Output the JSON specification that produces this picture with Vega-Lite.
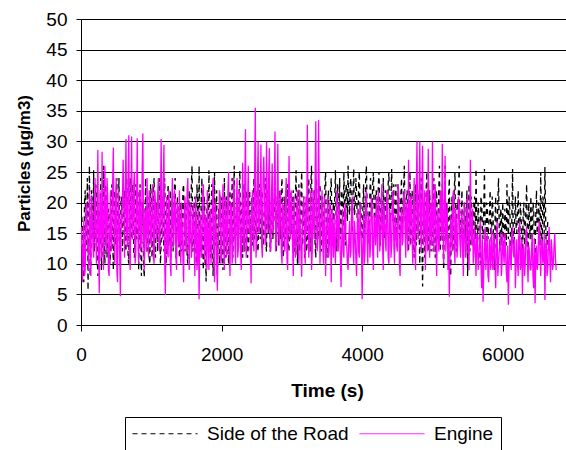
{
"$schema": "https://vega.github.io/schema/vega-lite/v6.json",
"width": 485, "height": 306,
"autosize": {"type": "none"},
"padding": {"left": 81, "top": 19, "right": 0, "bottom": 125},
"background": "white",
"config": {"font": "Liberation Sans", "view": {"stroke": null}},
"data": {"values": [
{"t":0,"road":11,"engine":13},{"t":20,"road":16,"engine":7},{"t":40,"road":7,"engine":17},{"t":60,"road":22,"engine":9},{"t":80,"road":14,"engine":20},{"t":100,"road":5.7,"engine":12},{"t":120,"road":26,"engine":22},{"t":140,"road":10,"engine":8},{"t":160,"road":19,"engine":18},{"t":180,"road":25.3,"engine":11},
{"t":200,"road":14,"engine":24},{"t":220,"road":21,"engine":10},{"t":240,"road":8,"engine":28.6},{"t":260,"road":18,"engine":5.2},{"t":280,"road":24,"engine":19},{"t":300,"road":12,"engine":28.3},{"t":320,"road":26,"engine":9},{"t":340,"road":10,"engine":26},{"t":360,"road":20,"engine":12},{"t":380,"road":15,"engine":21},
{"t":400,"road":18,"engine":8},{"t":420,"road":12,"engine":22},{"t":440,"road":23,"engine":14},{"t":460,"road":9,"engine":29},{"t":480,"road":21,"engine":10},{"t":500,"road":15,"engine":24},{"t":520,"road":11,"engine":7},{"t":540,"road":24,"engine":19},{"t":560,"road":10,"engine":4.7},{"t":580,"road":20,"engine":16},
{"t":600,"road":16,"engine":27},{"t":620,"road":22,"engine":11},{"t":640,"road":12,"engine":30.4},{"t":660,"road":19,"engine":13},{"t":680,"road":10,"engine":31},{"t":700,"road":24,"engine":9},{"t":720,"road":14,"engine":30.8},{"t":740,"road":21,"engine":15},{"t":760,"road":11,"engine":25},{"t":780,"road":23,"engine":12},
{"t":800,"road":17,"engine":30.5},{"t":820,"road":9,"engine":10},{"t":840,"road":23,"engine":22},{"t":860,"road":8,"engine":14},{"t":880,"road":20,"engine":31.3},{"t":900,"road":7.8,"engine":9},{"t":920,"road":24,"engine":18},{"t":940,"road":12,"engine":24},{"t":960,"road":19,"engine":11},{"t":980,"road":10,"engine":21},
{"t":1000,"road":21,"engine":13},{"t":1020,"road":14,"engine":23},{"t":1040,"road":24,"engine":10},{"t":1060,"road":11,"engine":20},{"t":1080,"road":19,"engine":15},{"t":1100,"road":16,"engine":24},{"t":1120,"road":22,"engine":12},{"t":1140,"road":13,"engine":30.4},{"t":1160,"road":20,"engine":14},{"t":1180,"road":12,"engine":29.4},
{"t":1200,"road":18,"engine":4.9},{"t":1220,"road":12,"engine":21},{"t":1240,"road":23,"engine":11},{"t":1260,"road":15,"engine":18},{"t":1280,"road":11,"engine":8},{"t":1300,"road":21,"engine":24},{"t":1320,"road":17,"engine":13},{"t":1340,"road":24,"engine":20},{"t":1360,"road":13,"engine":9},{"t":1380,"road":19,"engine":17},
{"t":1400,"road":11,"engine":22},{"t":1420,"road":20,"engine":10},{"t":1440,"road":14,"engine":16},{"t":1460,"road":23,"engine":7},{"t":1480,"road":12,"engine":21},{"t":1500,"road":18,"engine":12},{"t":1520,"road":10,"engine":24},{"t":1540,"road":22,"engine":9},{"t":1560,"road":16,"engine":19},{"t":1580,"road":26,"engine":13},
{"t":1600,"road":13,"engine":20},{"t":1620,"road":21,"engine":8},{"t":1640,"road":10,"engine":17},{"t":1660,"road":19,"engine":11},{"t":1680,"road":26,"engine":4.2},{"t":1700,"road":12,"engine":18},{"t":1720,"road":24,"engine":12},{"t":1740,"road":9,"engine":23},{"t":1760,"road":20,"engine":10},{"t":1780,"road":7.1,"engine":15},
{"t":1800,"road":22,"engine":22},{"t":1820,"road":25.3,"engine":9},{"t":1840,"road":11,"engine":19},{"t":1860,"road":23,"engine":13},{"t":1880,"road":8,"engine":24},{"t":1900,"road":25,"engine":7},{"t":1920,"road":15,"engine":18},{"t":1940,"road":7.9,"engine":5.6},{"t":1960,"road":19,"engine":16},{"t":1980,"road":12,"engine":21},
{"t":2000,"road":20,"engine":11},{"t":2020,"road":9,"engine":23},{"t":2040,"road":24,"engine":9},{"t":2060,"road":13,"engine":20},{"t":2080,"road":18,"engine":14},{"t":2100,"road":10,"engine":25},{"t":2120,"road":22,"engine":8},{"t":2140,"road":16,"engine":19},{"t":2160,"road":11,"engine":12},{"t":2180,"road":26,"engine":22},
{"t":2200,"road":14,"engine":10},{"t":2220,"road":21,"engine":24},{"t":2240,"road":12,"engine":13},{"t":2260,"road":25.2,"engine":20},{"t":2280,"road":16,"engine":9},{"t":2300,"road":11,"engine":26.5},{"t":2320,"road":23,"engine":12},{"t":2340,"road":15,"engine":32},{"t":2360,"road":19,"engine":14},{"t":2380,"road":13,"engine":26},
{"t":2400,"road":22,"engine":18},{"t":2420,"road":17,"engine":6.8},{"t":2440,"road":13,"engine":22},{"t":2460,"road":24,"engine":12},{"t":2480,"road":15,"engine":35.5},{"t":2500,"road":20,"engine":14},{"t":2520,"road":12,"engine":30},{"t":2540,"road":23,"engine":16},{"t":2560,"road":16,"engine":29.5},{"t":2580,"road":21,"engine":11},
{"t":2600,"road":14,"engine":27.5},{"t":2620,"road":24,"engine":13},{"t":2640,"road":12,"engine":30},{"t":2660,"road":19,"engine":15},{"t":2680,"road":23,"engine":28.9},{"t":2700,"road":13,"engine":12},{"t":2720,"road":21,"engine":26.4},{"t":2740,"road":17,"engine":17},{"t":2760,"road":24,"engine":31.6},{"t":2780,"road":12,"engine":14},
{"t":2800,"road":18,"engine":29.6},{"t":2820,"road":22,"engine":13},{"t":2840,"road":14,"engine":21},{"t":2860,"road":24,"engine":10},{"t":2880,"road":11,"engine":18},{"t":2900,"road":20,"engine":12},{"t":2920,"road":16,"engine":24},{"t":2940,"road":23,"engine":9},{"t":2960,"road":12,"engine":27.6},{"t":2980,"road":19,"engine":14},
{"t":3000,"road":15,"engine":20},{"t":3020,"road":22,"engine":8},{"t":3040,"road":12,"engine":17},{"t":3060,"road":25.3,"engine":12},{"t":3080,"road":10,"engine":22},{"t":3100,"road":23,"engine":10},{"t":3120,"road":14,"engine":16},{"t":3140,"road":25,"engine":7.9},{"t":3160,"road":17,"engine":19},{"t":3180,"road":11,"engine":13},
{"t":3200,"road":20,"engine":21},{"t":3220,"road":14,"engine":32.7},{"t":3240,"road":24,"engine":11},{"t":3260,"road":12,"engine":18},{"t":3280,"road":26,"engine":9},{"t":3300,"road":17,"engine":22},{"t":3320,"road":22,"engine":14},{"t":3340,"road":11,"engine":33.3},{"t":3360,"road":19,"engine":12},{"t":3380,"road":15,"engine":33.5},
{"t":3400,"road":23,"engine":10},{"t":3420,"road":12,"engine":19},{"t":3440,"road":20,"engine":13},{"t":3460,"road":16,"engine":21},{"t":3480,"road":25,"engine":8},{"t":3500,"road":11,"engine":17},{"t":3520,"road":22,"engine":11},{"t":3540,"road":14,"engine":20},{"t":3560,"road":24,"engine":7},{"t":3580,"road":13,"engine":15},
{"t":3600,"road":17,"engine":18},{"t":3620,"road":25.3,"engine":10},{"t":3640,"road":12,"engine":22},{"t":3660,"road":21,"engine":12},{"t":3680,"road":24,"engine":16},{"t":3700,"road":15,"engine":6.2},{"t":3720,"road":20,"engine":19},{"t":3740,"road":25,"engine":11},{"t":3760,"road":13,"engine":20},{"t":3780,"road":22,"engine":13},
{"t":3800,"road":26,"engine":9},{"t":3820,"road":18,"engine":17},{"t":3840,"road":24,"engine":12},{"t":3860,"road":15,"engine":21},{"t":3880,"road":25.5,"engine":10},{"t":3900,"road":19,"engine":15},{"t":3920,"road":22,"engine":8},{"t":3940,"road":16,"engine":19},{"t":3960,"road":25,"engine":11},{"t":3980,"road":20,"engine":16},
{"t":4000,"road":14,"engine":4.2},{"t":4020,"road":23,"engine":18},{"t":4040,"road":17,"engine":12},{"t":4060,"road":26,"engine":22},{"t":4080,"road":19,"engine":10},{"t":4100,"road":13,"engine":17},{"t":4120,"road":24,"engine":13},{"t":4140,"road":18,"engine":20},{"t":4160,"road":25,"engine":9},{"t":4180,"road":15,"engine":16},
{"t":4200,"road":22,"engine":21},{"t":4220,"road":16,"engine":11},{"t":4240,"road":25,"engine":19},{"t":4260,"road":13,"engine":14},{"t":4280,"road":20,"engine":23},{"t":4300,"road":24,"engine":9},{"t":4320,"road":14,"engine":17},{"t":4340,"road":21,"engine":12},{"t":4360,"road":18,"engine":20},{"t":4380,"road":25,"engine":10},
{"t":4400,"road":15,"engine":18},{"t":4420,"road":25.5,"engine":13},{"t":4440,"road":19,"engine":22},{"t":4460,"road":12,"engine":10},{"t":4480,"road":23,"engine":16},{"t":4500,"road":17,"engine":12},{"t":4520,"road":21,"engine":21},{"t":4540,"road":13,"engine":8},{"t":4560,"road":24,"engine":19},{"t":4580,"road":18,"engine":14},
{"t":4600,"road":26,"engine":22},{"t":4620,"road":14,"engine":11},{"t":4640,"road":22,"engine":17},{"t":4660,"road":12,"engine":27},{"t":4680,"road":25,"engine":13},{"t":4700,"road":16,"engine":20},{"t":4720,"road":20,"engine":10},{"t":4740,"road":11,"engine":24},{"t":4760,"road":23,"engine":9},{"t":4780,"road":15,"engine":30},
{"t":4800,"road":21,"engine":14},{"t":4820,"road":10,"engine":30},{"t":4840,"road":24,"engine":12},{"t":4860,"road":6.3,"engine":29.3},{"t":4880,"road":19,"engine":18},{"t":4900,"road":13,"engine":9},{"t":4920,"road":25,"engine":22},{"t":4940,"road":15,"engine":28.8},{"t":4960,"road":22,"engine":11},{"t":4980,"road":12,"engine":20},
{"t":5000,"road":18,"engine":30},{"t":5020,"road":24,"engine":12},{"t":5040,"road":11,"engine":23},{"t":5060,"road":22,"engine":8},{"t":5080,"road":16,"engine":19},{"t":5100,"road":26,"engine":13},{"t":5120,"road":14,"engine":21},{"t":5140,"road":23,"engine":29.6},{"t":5160,"road":9,"engine":10},{"t":5180,"road":26,"engine":27.6},
{"t":5200,"road":20,"engine":15},{"t":5220,"road":13,"engine":9},{"t":5240,"road":24,"engine":4.6},{"t":5260,"road":8,"engine":18},{"t":5280,"road":21,"engine":12},{"t":5300,"road":15,"engine":22},{"t":5320,"road":25,"engine":10},{"t":5340,"road":12,"engine":17},{"t":5360,"road":19,"engine":13},{"t":5380,"road":26,"engine":20},
{"t":5400,"road":14,"engine":11},{"t":5420,"road":22,"engine":19},{"t":5440,"road":11,"engine":8},{"t":5460,"road":20,"engine":16},{"t":5480,"road":17,"engine":12},{"t":5500,"road":8,"engine":21},{"t":5520,"road":23,"engine":9},{"t":5540,"road":13,"engine":27},{"t":5560,"road":19,"engine":13},{"t":5580,"road":15,"engine":10},
{"t":5600,"road":21,"engine":16},{"t":5620,"road":25.5,"engine":8},{"t":5640,"road":12,"engine":14},{"t":5660,"road":18,"engine":11},{"t":5680,"road":10,"engine":17},{"t":5700,"road":20,"engine":6},{"t":5720,"road":14,"engine":3.8},{"t":5740,"road":25.5,"engine":13},{"t":5760,"road":11,"engine":9},{"t":5780,"road":19,"engine":15},
{"t":5800,"road":16,"engine":7},{"t":5820,"road":22,"engine":12},{"t":5840,"road":13,"engine":16},{"t":5860,"road":19,"engine":9},{"t":5880,"road":9,"engine":14},{"t":5900,"road":21,"engine":6},{"t":5920,"road":15,"engine":17},{"t":5940,"road":24,"engine":10},{"t":5960,"road":12,"engine":13},{"t":5980,"road":18,"engine":8},
{"t":6000,"road":20,"engine":15},{"t":6020,"road":11,"engine":10},{"t":6040,"road":17,"engine":12},{"t":6060,"road":23,"engine":7},{"t":6080,"road":14,"engine":3.3},{"t":6100,"road":19,"engine":14},{"t":6120,"road":10,"engine":9},{"t":6140,"road":25.5,"engine":16},{"t":6160,"road":13,"engine":11},{"t":6180,"road":21,"engine":6},
{"t":6200,"road":15,"engine":14},{"t":6220,"road":22,"engine":8},{"t":6240,"road":12,"engine":17},{"t":6260,"road":18,"engine":11},{"t":6280,"road":9,"engine":5},{"t":6300,"road":20,"engine":13},{"t":6320,"road":16,"engine":10},{"t":6340,"road":23,"engine":16},{"t":6360,"road":11,"engine":7},{"t":6380,"road":17,"engine":12},
{"t":6400,"road":21,"engine":9},{"t":6420,"road":13,"engine":15},{"t":6440,"road":19,"engine":6},{"t":6460,"road":10,"engine":3.6},{"t":6480,"road":22,"engine":13},{"t":6500,"road":15,"engine":10},{"t":6520,"road":18,"engine":17},{"t":6540,"road":25,"engine":8},{"t":6560,"road":12,"engine":14},{"t":6580,"road":20,"engine":11},
{"t":6600,"road":25.8,"engine":4.1},{"t":6620,"road":11,"engine":14},{"t":6640,"road":17,"engine":9},{"t":6660,"engine":16},{"t":6680,"engine":7},{"t":6700,"engine":12},{"t":6720,"engine":10},{"t":6740,"engine":15},{"t":6760,"engine":9},
{"t":10,"road":18,"engine":16},{"t":30,"road":9,"engine":11},{"t":50,"road":20,"engine":8},{"t":70,"road":12,"engine":19},{"t":90,"road":24,"engine":14},{"t":110,"road":17,"engine":9},{"t":130,"road":8,"engine":15},{"t":150,"road":22,"engine":21},{"t":170,"road":14,"engine":13},{"t":190,"road":12,"engine":17},
{"t":210,"road":23,"engine":15},{"t":230,"road":11,"engine":18},{"t":250,"road":19,"engine":12},{"t":270,"road":13,"engine":22},{"t":290,"road":9,"engine":11},{"t":310,"road":21,"engine":16},{"t":330,"road":14,"engine":20},{"t":350,"road":23,"engine":14},{"t":370,"road":11,"engine":24},{"t":390,"road":19,"engine":9},
{"t":410,"road":10,"engine":17},{"t":430,"road":20,"engine":12},{"t":450,"road":15,"engine":23},{"t":470,"road":22,"engine":15},{"t":490,"road":13,"engine":20},{"t":510,"road":24,"engine":9},{"t":530,"road":18,"engine":22},{"t":550,"road":14,"engine":13},{"t":570,"road":21,"engine":18},{"t":590,"road":12,"engine":21},
{"t":610,"road":20,"engine":18},{"t":630,"road":13,"engine":22},{"t":650,"road":24,"engine":15},{"t":670,"road":11,"engine":24},{"t":690,"road":21,"engine":12},{"t":710,"road":15,"engine":20},{"t":730,"road":23,"engine":14},{"t":750,"road":12,"engine":23},{"t":770,"road":18,"engine":10},{"t":790,"road":14,"engine":19},
{"t":810,"road":22,"engine":16},{"t":830,"road":15,"engine":20},{"t":850,"road":12,"engine":12},{"t":870,"road":20,"engine":25},{"t":890,"road":10,"engine":15},{"t":910,"road":18,"engine":19},{"t":930,"road":14,"engine":12},{"t":950,"road":21,"engine":16},{"t":970,"road":11,"engine":22},{"t":990,"road":23,"engine":14},
{"t":1010,"road":11,"engine":20},{"t":1030,"road":22,"engine":11},{"t":1050,"road":13,"engine":22},{"t":1070,"road":20,"engine":14},{"t":1090,"road":12,"engine":21},{"t":1110,"road":24,"engine":13},{"t":1130,"road":10,"engine":19},{"t":1150,"road":21,"engine":17},{"t":1170,"road":15,"engine":23},{"t":1190,"road":24,"engine":11},
{"t":1210,"road":10,"engine":15},{"t":1230,"road":20,"engine":12},{"t":1250,"road":13,"engine":22},{"t":1270,"road":22,"engine":10},{"t":1290,"road":18,"engine":19},{"t":1310,"road":12,"engine":14},{"t":1330,"road":23,"engine":22},{"t":1350,"road":11,"engine":11},{"t":1370,"road":21,"engine":20},{"t":1390,"road":14,"engine":13},
{"t":1410,"road":17,"engine":14},{"t":1430,"road":12,"engine":20},{"t":1450,"road":22,"engine":11},{"t":1470,"road":15,"engine":18},{"t":1490,"road":20,"engine":13},{"t":1510,"road":11,"engine":22},{"t":1530,"road":19,"engine":15},{"t":1550,"road":13,"engine":20},{"t":1570,"road":23,"engine":11},{"t":1590,"road":12,"engine":17},
{"t":1610,"road":18,"engine":13},{"t":1630,"road":14,"engine":21},{"t":1650,"road":23,"engine":9},{"t":1670,"road":11,"engine":19},{"t":1690,"road":15,"engine":14},{"t":1710,"road":20,"engine":11},{"t":1730,"road":13,"engine":20},{"t":1750,"road":21,"engine":15},{"t":1770,"road":12,"engine":18},{"t":1790,"road":18,"engine":9},
{"t":1810,"road":12,"engine":14},{"t":1830,"road":19,"engine":17},{"t":1850,"road":17,"engine":10},{"t":1870,"road":12,"engine":21},{"t":1890,"road":20,"engine":12},{"t":1910,"road":13,"engine":20},{"t":1930,"road":22,"engine":11},{"t":1950,"road":14,"engine":15},{"t":1970,"road":10,"engine":22},{"t":1990,"road":21,"engine":10},
{"t":2010,"road":13,"engine":18},{"t":2030,"road":18,"engine":13},{"t":2050,"road":11,"engine":21},{"t":2070,"road":21,"engine":11},{"t":2090,"road":12,"engine":22},{"t":2110,"road":20,"engine":12},{"t":2130,"road":13,"engine":20},{"t":2150,"road":24,"engine":10},{"t":2170,"road":19,"engine":24},{"t":2190,"road":14,"engine":13},
{"t":2210,"road":19,"engine":19},{"t":2230,"road":12,"engine":11},{"t":2250,"road":22,"engine":22},{"t":2270,"road":14,"engine":12},{"t":2290,"road":20,"engine":18},{"t":2310,"road":18,"engine":14},{"t":2330,"road":12,"engine":23},{"t":2350,"road":22,"engine":11},{"t":2370,"road":11,"engine":20},{"t":2390,"road":20,"engine":15},
{"t":2410,"road":12,"engine":13},{"t":2430,"road":21,"engine":20},{"t":2450,"road":18,"engine":14},{"t":2470,"road":14,"engine":25},{"t":2490,"road":22,"engine":11},{"t":2510,"road":13,"engine":23},{"t":2530,"road":20,"engine":15},{"t":2550,"road":14,"engine":21},{"t":2570,"road":22,"engine":13},{"t":2590,"road":13,"engine":24},
{"t":2610,"road":20,"engine":22},{"t":2630,"road":13,"engine":16},{"t":2650,"road":22,"engine":19},{"t":2670,"road":15,"engine":24},{"t":2690,"road":12,"engine":13},{"t":2710,"road":21,"engine":21},{"t":2730,"road":14,"engine":15},{"t":2750,"road":20,"engine":23},{"t":2770,"road":13,"engine":12},{"t":2790,"road":21,"engine":20},
{"t":2810,"road":13,"engine":16},{"t":2830,"road":19,"engine":22},{"t":2850,"road":22,"engine":12},{"t":2870,"road":12,"engine":20},{"t":2890,"road":21,"engine":14},{"t":2910,"road":14,"engine":21},{"t":2930,"road":19,"engine":11},{"t":2950,"road":13,"engine":19},{"t":2970,"road":22,"engine":15},{"t":2990,"road":15,"engine":22},
{"t":3010,"road":20,"engine":13},{"t":3030,"road":13,"engine":21},{"t":3050,"road":21,"engine":11},{"t":3070,"road":14,"engine":19},{"t":3090,"road":18,"engine":14},{"t":3110,"road":12,"engine":22},{"t":3130,"road":22,"engine":12},{"t":3150,"road":13,"engine":17},{"t":3170,"road":21,"engine":21},{"t":3190,"road":19,"engine":10},
{"t":3210,"road":12,"engine":15},{"t":3230,"road":21,"engine":20},{"t":3250,"road":17,"engine":13},{"t":3270,"road":23,"engine":22},{"t":3290,"road":13,"engine":12},{"t":3310,"road":21,"engine":17},{"t":3330,"road":13,"engine":23},{"t":3350,"road":24,"engine":19},{"t":3370,"road":14,"engine":14},{"t":3390,"road":22,"engine":21},
{"t":3410,"road":17,"engine":15},{"t":3430,"road":21,"engine":22},{"t":3450,"road":13,"engine":10},{"t":3470,"road":23,"engine":17},{"t":3490,"road":15,"engine":14},{"t":3510,"road":19,"engine":21},{"t":3530,"road":13,"engine":12},{"t":3550,"road":22,"engine":16},{"t":3570,"road":17,"engine":19},{"t":3590,"road":20,"engine":11},
{"t":3610,"road":21,"engine":13},{"t":3630,"road":17,"engine":17},{"t":3650,"road":23,"engine":14},{"t":3670,"road":18,"engine":20},{"t":3690,"road":14,"engine":11},{"t":3710,"road":22,"engine":14},{"t":3730,"road":16,"engine":12},{"t":3750,"road":19,"engine":18},{"t":3770,"road":23,"engine":14},{"t":3790,"road":17,"engine":10},
{"t":3810,"road":20,"engine":14},{"t":3830,"road":23,"engine":11},{"t":3850,"road":17,"engine":19},{"t":3870,"road":22,"engine":13},{"t":3890,"road":18,"engine":17},{"t":3910,"road":24,"engine":11},{"t":3930,"road":17,"engine":16},{"t":3950,"road":23,"engine":12},{"t":3970,"road":18,"engine":20},{"t":3990,"road":16,"engine":13},
{"t":4010,"road":19,"engine":13},{"t":4030,"road":15,"engine":10},{"t":4050,"road":24,"engine":20},{"t":4070,"road":20,"engine":14},{"t":4090,"road":16,"engine":18},{"t":4110,"road":22,"engine":11},{"t":4130,"road":17,"engine":21},{"t":4150,"road":23,"engine":12},{"t":4170,"road":19,"engine":18},{"t":4190,"road":21,"engine":13},
{"t":4210,"road":19,"engine":15},{"t":4230,"road":23,"engine":22},{"t":4250,"road":18,"engine":12},{"t":4270,"road":21,"engine":18},{"t":4290,"road":15,"engine":13},{"t":4310,"road":19,"engine":20},{"t":4330,"road":22,"engine":14},{"t":4350,"road":16,"engine":22},{"t":4370,"road":23,"engine":11},{"t":4390,"road":18,"engine":19},
{"t":4410,"road":21,"engine":11},{"t":4430,"road":17,"engine":20},{"t":4450,"road":23,"engine":14},{"t":4470,"road":18,"engine":18},{"t":4490,"road":14,"engine":13},{"t":4510,"road":23,"engine":23},{"t":4530,"road":16,"engine":10},{"t":4550,"road":21,"engine":17},{"t":4570,"road":15,"engine":13},{"t":4590,"road":22,"engine":21},
{"t":4610,"road":18,"engine":16},{"t":4630,"road":21,"engine":20},{"t":4650,"road":15,"engine":12},{"t":4670,"road":20,"engine":18},{"t":4690,"road":13,"engine":21},{"t":4710,"road":22,"engine":14},{"t":4730,"road":14,"engine":19},{"t":4750,"road":19,"engine":13},{"t":4770,"road":13,"engine":22},{"t":4790,"road":22,"engine":16},
{"t":4810,"road":15,"engine":21},{"t":4830,"road":20,"engine":17},{"t":4850,"road":13,"engine":23},{"t":4870,"road":18,"engine":13},{"t":4890,"road":11,"engine":22},{"t":4910,"road":22,"engine":15},{"t":4930,"road":17,"engine":12},{"t":4950,"road":12,"engine":20},{"t":4970,"road":18,"engine":16},{"t":4990,"road":20,"engine":13},
{"t":5010,"road":12,"engine":17},{"t":5030,"road":17,"engine":21},{"t":5050,"road":21,"engine":13},{"t":5070,"road":14,"engine":18},{"t":5090,"road":22,"engine":12},{"t":5110,"road":12,"engine":22},{"t":5130,"road":19,"engine":14},{"t":5150,"road":13,"engine":16},{"t":5170,"road":20,"engine":20},{"t":5190,"road":14,"engine":12},
{"t":5210,"road":17,"engine":20},{"t":5230,"road":21,"engine":14},{"t":5250,"road":14,"engine":11},{"t":5270,"road":19,"engine":16},{"t":5290,"road":12,"engine":21},{"t":5310,"road":22,"engine":13},{"t":5330,"road":14,"engine":19},{"t":5350,"road":20,"engine":11},{"t":5370,"road":22,"engine":21},{"t":5390,"road":16,"engine":14},
{"t":5410,"road":18,"engine":15},{"t":5430,"road":12,"engine":12},{"t":5450,"road":19,"engine":20},{"t":5470,"road":14,"engine":11},{"t":5490,"road":22,"engine":18},{"t":5510,"road":15,"engine":13},{"t":5530,"road":12,"engine":17},{"t":5550,"road":21,"engine":14},{"t":5570,"road":13,"engine":19},{"t":5590,"road":20,"engine":12},
{"t":5610,"road":14,"engine":12},{"t":5630,"road":17,"engine":15},{"t":5650,"road":20,"engine":9},{"t":5670,"road":13,"engine":13},{"t":5690,"road":21,"engine":10},{"t":5710,"road":16,"engine":14},{"t":5730,"road":19,"engine":9},{"t":5750,"road":15,"engine":16},{"t":5770,"road":20,"engine":12},{"t":5790,"road":14,"engine":8},
{"t":5810,"road":18,"engine":14},{"t":5830,"road":15,"engine":9},{"t":5850,"road":21,"engine":11},{"t":5870,"road":14,"engine":15},{"t":5890,"road":17,"engine":10},{"t":5910,"road":12,"engine":13},{"t":5930,"road":20,"engine":8},{"t":5950,"road":16,"engine":12},{"t":5970,"road":19,"engine":15},{"t":5990,"road":13,"engine":10},
{"t":6010,"road":15,"engine":12},{"t":6030,"road":19,"engine":15},{"t":6050,"road":13,"engine":9},{"t":6070,"road":17,"engine":13},{"t":6090,"road":21,"engine":10},{"t":6110,"road":15,"engine":11},{"t":6130,"road":18,"engine":15},{"t":6150,"road":14,"engine":12},{"t":6170,"road":17,"engine":14},{"t":6190,"road":16,"engine":10},
{"t":6210,"road":19,"engine":10},{"t":6230,"road":14,"engine":15},{"t":6250,"road":20,"engine":9},{"t":6270,"road":15,"engine":14},{"t":6290,"road":18,"engine":12},{"t":6310,"road":13,"engine":8},{"t":6330,"road":19,"engine":15},{"t":6350,"road":15,"engine":11},{"t":6370,"road":20,"engine":13},{"t":6390,"road":14,"engine":9},
{"t":6410,"road":16,"engine":12},{"t":6430,"road":20,"engine":8},{"t":6450,"road":14,"engine":14},{"t":6470,"road":18,"engine":11},{"t":6490,"road":15,"engine":9},{"t":6510,"road":20,"engine":15},{"t":6530,"road":13,"engine":12},{"t":6550,"road":17,"engine":13},{"t":6570,"road":21,"engine":10},{"t":6590,"road":15,"engine":15},
{"t":6610,"road":18,"engine":12},{"t":6630,"road":13,"engine":8},{"t":6650,"engine":13},{"t":6670,"engine":11},{"t":6690,"engine":14},{"t":6710,"engine":9},{"t":6730,"engine":13},{"t":6750,"engine":11}
]},
"transform": [{"fold": ["road", "engine"], "as": ["series", "value"]}],
"mark": {"type": "line", "strokeWidth": 1.3, "clip": true},
"encoding": {
  "x": {"field": "t", "type": "quantitative", "scale": {"domain": [0, 6900], "nice": false},
    "axis": {"title": "Time (s)", "values": [0, 2000, 4000, 6000], "format": "d", "grid": false, "tickSize": 6, "labelPadding": 14, "labelFlush": false,
      "labelFont": "Liberation Sans", "labelFontSize": 19, "labelColor": "#000", "domainColor": "#000", "tickColor": "#000",
      "titleFont": "Liberation Sans", "titleFontSize": 19, "titleFontWeight": "bold", "titleColor": "#000",
      "titleX": 246, "titleY": 71, "titleBaseline": "alphabetic", "titleAlign": "center"}},
  "y": {"field": "value", "type": "quantitative", "scale": {"domain": [0, 50], "nice": false},
    "axis": {"title": "Particles (μg/m3)", "values": [0, 5, 10, 15, 20, 25, 30, 35, 40, 45, 50], "grid": true, "gridColor": "#000", "gridWidth": 1, "tickSize": 5, "labelPadding": 9,
      "labelFont": "Liberation Sans", "labelFontSize": 19, "labelColor": "#000", "domainColor": "#000", "tickColor": "#000",
      "titleFont": "Liberation Sans", "titleFontSize": 17, "titleFontWeight": "bold", "titleColor": "#000",
      "titleX": -52, "titleY": 144, "titleAngle": 270, "titleBaseline": "alphabetic", "titleAlign": "center"}},
  "color": {"field": "series", "type": "nominal", "scale": {"domain": ["road", "engine"], "range": ["#000000", "#FF00FF"]},
    "legend": {"title": null, "orient": "none", "legendX": 44, "legendY": 398, "direction": "horizontal", "symbolType": "stroke", "symbolSize": 4225, "symbolStrokeWidth": 1, "clipHeight": 19,
      "labelFont": "Liberation Sans", "labelFontSize": 19, "labelColor": "#000", "labelOffset": 9, "columnPadding": 10, "padding": 7, "strokeColor": "#000", "fillColor": "#fff", "labelLimit": 0,
      "labelExpr": "datum.value == 'road' ? 'Side of the Road' : 'Engine'"}},
  "strokeDash": {"field": "series", "type": "nominal", "scale": {"domain": ["road", "engine"], "range": [[5, 4], [1, 0]]},
    "legend": {"title": null, "orient": "none", "legendX": 44, "legendY": 398, "direction": "horizontal", "symbolType": "stroke", "symbolSize": 4225, "symbolStrokeWidth": 1, "clipHeight": 19,
      "labelFont": "Liberation Sans", "labelFontSize": 19, "labelColor": "#000", "labelOffset": 9, "columnPadding": 10, "padding": 7, "strokeColor": "#000", "fillColor": "#fff", "labelLimit": 0,
      "labelExpr": "datum.value == 'road' ? 'Side of the Road' : 'Engine'"}}
}
}
